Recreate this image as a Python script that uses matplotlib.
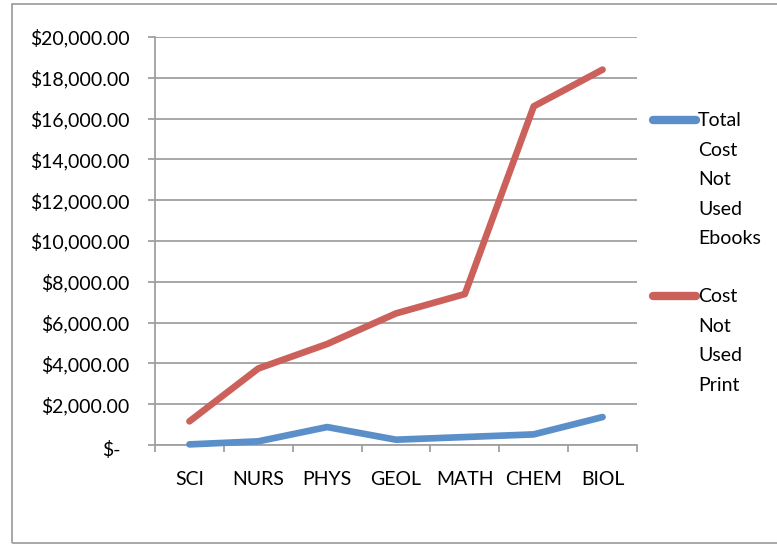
import matplotlib
matplotlib.use("Agg")
import matplotlib.pyplot as plt
from matplotlib.lines import Line2D
from matplotlib.patches import Rectangle
from matplotlib.transforms import ScaledTranslation

categories = ['SCI', 'NURS', 'PHYS', 'GEOL', 'MATH', 'CHEM', 'BIOL']
ebooks_cost = [30, 180, 880, 260, 390, 520, 1370]
print_cost = [1160, 3750, 4950, 6450, 7400, 16600, 18400]
series_labels = ['Total Cost Not Used Ebooks', 'Cost Not Used Print']
y_ticks = [0, 2000, 4000, 6000, 8000, 10000, 12000, 14000, 16000, 18000, 20000]

BLUE = '#5B8FC9'
RED = '#CC615B'
GRID = '#A0A0A0'
FONT = ['Lato', 'DejaVu Sans']
FS = 14

plt.rcParams['font.family'] = FONT

W, H = 777, 544
fig = plt.figure(figsize=(W / 100, H / 100), dpi=100)

def fx(px):
    return px / W

def fy(py):
    return 1 - py / H

# outer border
fig.add_artist(Rectangle((fx(12), fy(543)), fx(800) - fx(12), fy(4) - fy(543),
                         transform=fig.transFigure, fill=False,
                         edgecolor=GRID, linewidth=1.3))

ax = fig.add_axes([fx(155), fy(445), fx(637) - fx(155), fy(37) - fy(445)])

x = list(range(len(categories)))
ax.plot(x, ebooks_cost, color=BLUE, lw=4.8, solid_capstyle='round',
        solid_joinstyle='round', zorder=3, clip_on=False)
ax.plot(x, print_cost, color=RED, lw=4.8, solid_capstyle='round',
        solid_joinstyle='round', zorder=3, clip_on=False)

ax.set_xlim(-0.5, len(categories) - 0.5)
ax.set_ylim(0, 20000)

ax.set_yticks(y_ticks)
ylabels = ['$-' if v == 0 else '${:,.2f}'.format(v) for v in y_ticks]
ax.set_yticklabels(ylabels, fontsize=FS)
ax.set_xticks([i - 0.5 for i in range(len(categories) + 1)])
ax.set_xticklabels([])
ax.set_xticks(x, minor=True)
ax.set_xticklabels(categories, minor=True, fontsize=FS)

ax.tick_params(axis='y', which='major', direction='out', length=5, width=1.3,
               color=GRID, pad=13.5)
ax.tick_params(axis='x', which='major', direction='out', length=5, width=1.3,
               color=GRID)
ax.tick_params(axis='x', which='minor', length=0, pad=18.5)

ax.grid(axis='y', color=GRID, lw=1.3, zorder=1)
ax.set_axisbelow(True)
for s in ['top', 'right']:
    ax.spines[s].set_visible(False)
for s in ['left', 'bottom']:
    ax.spines[s].set_color(GRID)
    ax.spines[s].set_linewidth(1.3)

# Excel accounting-style zero label sits a little left
for lbl in ax.get_yticklabels():
    if lbl.get_text() == '$-':
        lbl.set_transform(lbl.get_transform() +
                          ScaledTranslation(-0.09, -0.03, fig.dpi_scale_trans))

# legend (manual, Excel-like word wrapping)
leg_y = [120, 296]
for lab, col, yy in zip(series_labels, [BLUE, RED], leg_y):
    fig.add_artist(Line2D([fx(653), fx(696)], [fy(yy), fy(yy)], color=col,
                          lw=6, solid_capstyle='round',
                          transform=fig.transFigure))
    fig.text(fx(698), fy(yy - 8), '\n'.join(lab.split()), fontsize=FS,
             va='top', ha='left', linespacing=1.9)

fig.savefig('out.png', dpi=100)
